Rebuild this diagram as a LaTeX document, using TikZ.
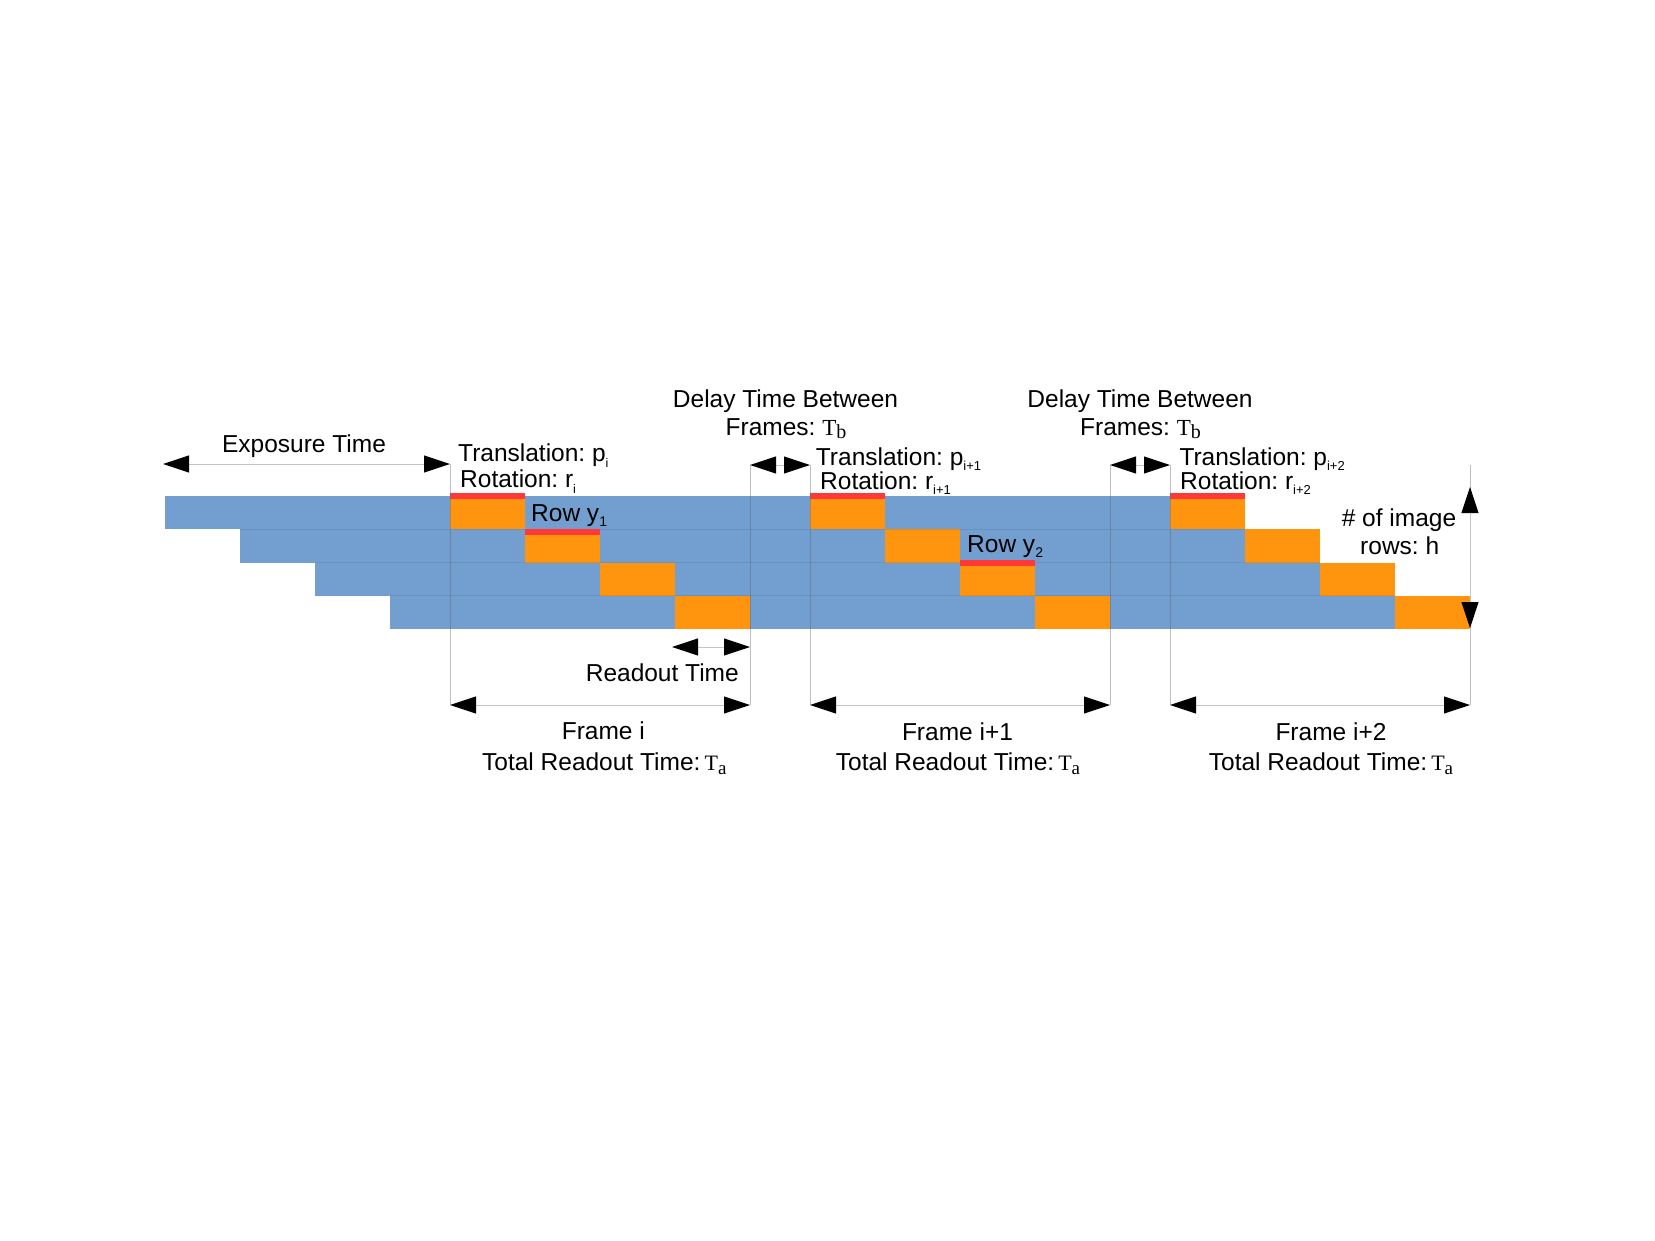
\documentclass[tikz,border=0pt]{standalone}
\usepackage{fontspec}
\setmainfont{Liberation Sans}
\newfontfamily\serifT{Liberation Serif}
\usetikzlibrary{arrows.meta}
\definecolor{rowblue}{HTML}{729FCF}
\definecolor{cellorange}{HTML}{FF950E}
\definecolor{markred}{HTML}{FF3838}
\definecolor{dimgray}{HTML}{C4C4C4}
\frenchspacing
\newcommand{\lowsub}[3]{\raisebox{-#1pt}{\fontsize{#2}{#2}\selectfont #3}}
\newcommand{\Tsym}[1]{{\serifT\fontsize{23}{23}\selectfont T\lowsub{3.8}{20}{#1}}}
\begin{document}
\begin{tikzpicture}[x=1pt,y=-1pt,
  lbl/.style={inner sep=0pt, font=\fontsize{24.5}{29}\selectfont},
  dimarrow/.style={draw=dimgray, line width=1pt,
    {Triangle[length=26pt,width=17pt,color=black]}-{Triangle[length=26pt,width=17pt,color=black]}},
  guide/.style={draw=black!62, draw opacity=0.4, line width=1pt},
  rowline/.style={draw=black, draw opacity=0.08, line width=1pt},
  redbar/.style={fill=markred}]
\path[use as bounding box, fill=white] (0,0) rectangle (1655,1240);

% rows
\foreach \k in {0,...,3} {
  \pgfmathsetmacro\yt{496+33.33*\k}
  \pgfmathsetmacro\yb{\yt+33.33}
  \fill[rowblue] ({165+75*\k},\yt) rectangle ({1170+75*\k},\yb);
  \foreach \j in {0,1,2}
    \fill[cellorange] ({450+75*\k+360*\j},\yt) rectangle ({525+75*\k+360*\j},\yb);
}
\foreach \k in {1,2,3} {
  \pgfmathsetmacro\yt{496+33.33*\k}
  \draw[rowline] ({165+75*\k},\yt) -- ({1170+75*\k},\yt);
}

% red marks
\fill[redbar] (450,493) rectangle (525,499);
\fill[redbar] (525,529) rectangle (600,534.5);
\fill[redbar] (810,493) rectangle (885,499);
\fill[redbar] (960,559.5) rectangle (1035,565.5);
\fill[redbar] (1170,493) rectangle (1245,499);

% coordinates
\coordinate (g1t) at (450,464);  \coordinate (g1b) at (450,705);
\coordinate (g2t) at (750,465);  \coordinate (g2b) at (750,705);
\coordinate (g3t) at (810,465);  \coordinate (g3b) at (810,705);
\coordinate (g4t) at (1110,465); \coordinate (g4b) at (1110,705);
\coordinate (g5t) at (1170,465); \coordinate (g5b) at (1170,705);
\coordinate (g6t) at (1470,465); \coordinate (g6b) at (1470,705);
\coordinate (ex1) at (163,464);
\coordinate (ro1) at (672,647);  \coordinate (ro2) at (750,647);
\coordinate (h1) at (1470,487);  \coordinate (h2) at (1470,628);

% guide lines
\foreach \g in {1,...,6} \draw[guide] (g\g t) -- (g\g b);

% dimension arrows
\draw[dimarrow] (ex1) -- (g1t);
\draw[dimarrow] (g2t) -- (g3t);
\draw[dimarrow] (g4t) -- (g5t);
\draw[dimarrow] (ro1) -- (ro2);
\draw[dimarrow] (g1b) -- (g2b);
\draw[dimarrow] (g3b) -- (g4b);
\draw[dimarrow] (g5b) -- (g6b);
\draw[dimarrow] (h1) -- (h2);

% labels
\node[lbl, anchor=base] (exp) at (304,452) {Exposure Time};
\node[lbl, anchor=base west] (tr0) at (458,461) {Translation: p\lowsub{6}{12.5}{i}};
\node[lbl, anchor=base west] (rot0) at (460,487) {Rotation: r\lowsub{6}{12.5}{i}};
\node[lbl, anchor=base west] (row1) at (531,521) {Row y\lowsub{5.7}{14}{1}};

\node[lbl, anchor=base] (dl1a) at (785.5,407) {Delay Time Between};
\node[lbl, anchor=base] (dl1b) at (786,435) {Frames: \Tsym{b}};
\node[lbl, anchor=base west] (tr1) at (815.7,465) {Translation: p\lowsub{5.5}{13}{i+1}};
\node[lbl, anchor=base west] (rot1) at (820,489) {Rotation: r\lowsub{5.5}{13}{i+1}};
\node[lbl, anchor=base west] (row2) at (967,552) {Row y\lowsub{5.7}{14}{2}};

\node[lbl, anchor=base] (dl2a) at (1140,407) {Delay Time Between};
\node[lbl, anchor=base] (dl2b) at (1140.5,435) {Frames: \Tsym{b}};
\node[lbl, anchor=base west] (tr2) at (1179.3,465) {Translation: p\lowsub{5.5}{13}{i+2}};
\node[lbl, anchor=base west] (rot2) at (1180,489) {Rotation: r\lowsub{5.5}{13}{i+2}};

\node[lbl, anchor=base] (hl1) at (1399,526) {\# of image};
\node[lbl, anchor=base] (hl2) at (1399.7,554) {rows: h};

\node[lbl, anchor=base] (rdt) at (662.3,681.7) {Readout Time};

\node[lbl, anchor=base] (f0) at (603.3,739.5) {Frame i};
\node[lbl, anchor=base] (t0) at (604.3,770) {Total Readout Time:\,{\serifT\fontsize{22}{22}\selectfont T\lowsub{4.5}{19}{a}}};
\node[lbl, anchor=base] (f1) at (957.5,740) {Frame i+1};
\node[lbl, anchor=base] (t1) at (958,770) {Total Readout Time:\,{\serifT\fontsize{22}{22}\selectfont T\lowsub{4.5}{19}{a}}};
\node[lbl, anchor=base] (f2) at (1331,740) {Frame i+2};
\node[lbl, anchor=base] (t2) at (1331,770) {Total Readout Time:\,{\serifT\fontsize{22}{22}\selectfont T\lowsub{4.5}{19}{a}}};
\end{tikzpicture}
\end{document}
